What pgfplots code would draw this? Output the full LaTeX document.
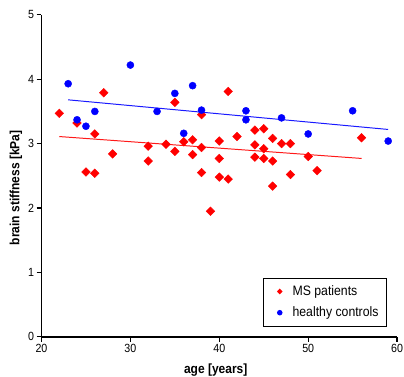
\documentclass[border=0pt]{standalone}
\usepackage{pgfplots}
\pgfplotsset{compat=1.18}
\usepackage{fontspec}
\setmainfont{Liberation Sans}[FakeStretch=0.9]
\pgfplotstableread{
x y
22 3.47
24 3.32
27 3.79
26 3.15
28 2.84
25 2.56
26 2.54
32 2.96
32 2.73
34 2.99
35 3.64
35 2.88
36 3.03
37 3.06
37 2.83
38 2.94
38 3.45
38 2.55
39 1.95
40 3.04
40 2.77
40 2.48
41 3.81
41 2.45
42 3.11
44 3.21
44 2.98
44 2.79
45 3.23
45 2.92
45 2.77
46 3.08
46 2.73
46 2.34
47 3.00
48 3.00
48 2.52
50 2.80
51 2.58
56 3.09
}\mstable
\pgfplotstableread{
x y
23 3.93
24 3.37
25 3.27
26 3.50
30 4.22
33 3.50
35 3.78
36 3.16
37 3.90
38 3.52
43 3.51
43 3.37
47 3.40
50 3.15
55 3.51
59 3.04
}\hctable
\begin{document}
\begin{tikzpicture}
\begin{axis}[
  scale only axis,
  width=360pt, height=326pt,
  xmin=20, xmax=60, ymin=0, ymax=5,
  axis lines=left,
  axis line style={-, line width=1.6pt, black},
  xtick={20,30,...,60}, ytick={0,1,...,5},
  tick align=outside,
  major tick length=5pt,
  tick style={line width=1.2pt, black},
  ticklabel style={font=\fontsize{12}{14}\selectfont},
  xticklabel style={yshift=1pt},
  yticklabel style={xshift=1pt},
  /pgf/number format/assume math mode=true,
  xlabel={\textbf{age [years]}},
  ylabel={\textbf{brain stiffness [kPa]}},
  label style={font=\fontsize{13.5}{15}\selectfont},
  xlabel style={at={(rel axis cs:0.49,-0.104)}, anchor=center},
  ylabel style={at={(rel axis cs:-0.072,0.463)}, anchor=center},
  legend style={at={(rel axis cs:0.622,0.184)}, anchor=north west, draw=black, line width=0.6pt,
    font=\fontsize{13.8}{15}\selectfont, row sep=6pt, inner xsep=6pt, inner ysep=6pt},
  legend cell align=left,
  clip=false,
]
\coordinate (ll) at (rel axis cs:0,0);
\addplot[red!90, line width=1pt, forget plot] coordinates {(22,3.11) (56,2.77)};
\addplot[blue!90, line width=1pt, forget plot] coordinates {(23,3.68) (59,3.22)};
\addplot[only marks, mark=square*, mark size=3.1pt, mark options={rotate=45, draw=red, fill=red},
  legend image code/.code={\path[draw=none] (0pt,0pt) -- (22pt,0pt); \fill[red, draw=none] (11pt,0pt) +(0pt,3pt) -- +(2.8pt,0pt) -- +(0pt,-3pt) -- +(-2.8pt,0pt) -- cycle;}]
  table[x=x,y=y] {\mstable};
\addlegendentry{MS patients}
\addplot[only marks, mark=*, mark size=3.6pt, mark options={draw=blue, fill=blue},
  legend image code/.code={\path[draw=none] (0pt,0pt) -- (22pt,0pt); \fill[blue, draw=none] (11pt,0pt) circle (2.8pt);}]
  table[x=x,y=y] {\hctable};
\addlegendentry{healthy controls}
\end{axis}
\pgfresetboundingbox
\path[use as bounding box] ([shift={(-42pt,-40pt)}]ll) rectangle ([shift={(367pt,341pt)}]ll);
\end{tikzpicture}
\end{document}
